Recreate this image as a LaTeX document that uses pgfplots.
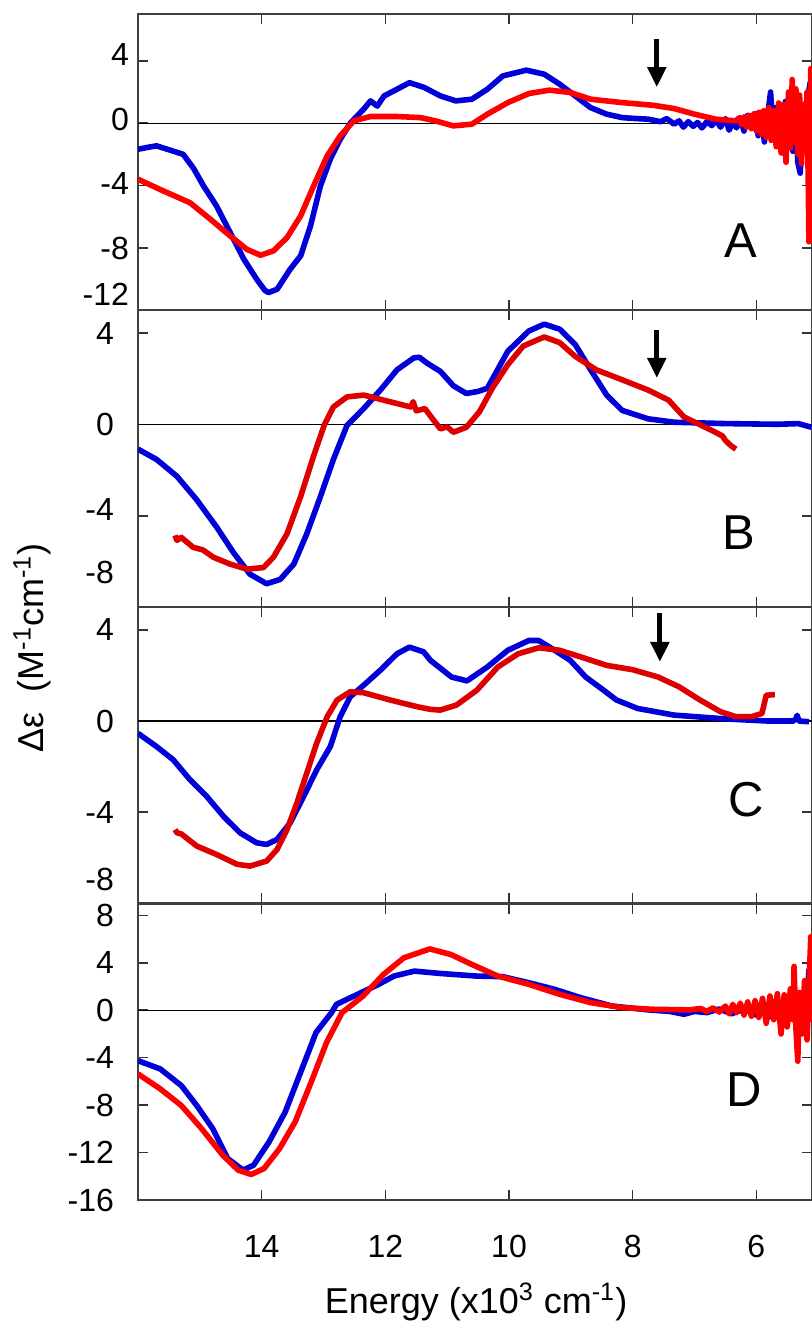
\documentclass[border=0pt]{standalone}
\usepackage{pgfplots}
\pgfplotsset{compat=1.18}
\usepackage{fontspec}
\setmainfont{Liberation Sans}
\usetikzlibrary{arrows.meta}
\definecolor{cblue}{RGB}{0,0,215}
\definecolor{cred}{RGB}{255,0,0}
\definecolor{cdred}{RGB}{222,0,0}
\pgfplotsset{panel/.style={
  scale only axis, width=337pt, height=148.25pt,
  x dir=reverse, xmin=5.1, xmax=16,
  xtick={6,8,10,12,14}, xticklabels={},
  tick align=inside, major tick length=5pt,
  axis line style={line width=1pt, black!75},
  every tick/.style={black!80, line width=0.8pt},
  tick label style={font=\fontsize{16}{16}\selectfont},
  /pgf/number format/assume math mode=true,
  clip=true,
  every axis plot/.append style={line width=2.8pt, line join=round},
}}
\begin{document}
\begin{tikzpicture}
\useasboundingbox (0,0) rectangle (406pt,661.5pt);
% ---------------- A
\begin{axis}[panel, at={(69pt,506.25pt)}, anchor=south west,
  ymin=-12, ymax=7, ytick={-12,-8,-4,0,4},
  yticklabels={\raisebox{16pt}{-12},-8,\raisebox{2pt}{-4},\raisebox{4pt}{0},\raisebox{6pt}{4}},
  yticklabel style={xshift=-1pt}]
\addplot[black, line width=0.7pt] coordinates {(5.1,0) (16,0)};
\addplot[cblue] coordinates {(16,-1.67) (15.85,-1.55) (15.70,-1.45) (15.5,-1.7) (15.27,-1.99) (15.1,-2.9) (14.94,-4.02) (14.73,-5.3) (14.51,-7.0) (14.29,-8.7) (14.08,-10.0) (13.95,-10.7) (13.89,-10.85) (13.75,-10.64) (13.54,-9.36) (13.37,-8.5) (13.21,-6.58) (13.05,-4.02) (12.89,-2.3) (12.73,-1.03) (12.56,0.04) (12.35,0.9) (12.24,1.43) (12.13,1.1) (12.02,1.75) (11.81,2.18) (11.61,2.6) (11.37,2.29) (11.11,1.75) (10.86,1.43) (10.6,1.54) (10.35,2.18) (10.1,3.03) (9.72,3.4) (9.43,3.14) (9.18,2.5) (8.93,1.75) (8.68,1.0) (8.42,0.58) (8.17,0.36) (7.95,0.3) (7.75,0.26) (7.55,0.1) (7.45,0.3) (7.33,-0.06)
(7.25,0.15) (7.18,-0.25) (7.1,0.1) (7.02,-0.2) (6.95,0.05) (6.88,-0.3) (6.8,0.1) (6.72,-0.15) (6.65,0.2) (6.58,-0.25) (6.5,0.3) (6.44,-0.45) (6.38,0.1) (6.32,-0.3) (6.26,0.35) (6.2,-0.5) (6.14,0.5) (6.08,-0.3) (6.02,0.6) (5.97,-0.8) (5.92,0.7) (5.87,-1.2) (5.82,0.4) (5.77,2.0) (5.73,-0.6) (5.69,1.0) (5.65,-1.5) (5.61,0.8) (5.57,-1.9) (5.53,1.4) (5.49,-1.2) (5.45,0.8) (5.41,-1.8) (5.37,1.2) (5.33,-2.5) (5.29,-3.2) (5.25,0.8) (5.21,-1.6) (5.17,1.5) (5.13,2.6) (5.1,-1.0)};
\addplot[cred] coordinates {(16,-3.59) (15.59,-4.34) (15.16,-5.09) (14.83,-6.15) (14.51,-7.22) (14.24,-8.08) (14.02,-8.46) (13.81,-8.18) (13.59,-7.33) (13.37,-5.94) (13.16,-4.02) (12.94,-2.09) (12.73,-0.81) (12.51,0.15) (12.24,0.43) (11.81,0.43) (11.43,0.36) (11.19,0.15) (10.9,-0.17) (10.6,-0.06) (10.35,0.58) (10.02,1.32) (9.68,1.9) (9.35,2.12) (9.01,1.97) (8.68,1.54) (8.17,1.32) (7.67,1.15) (7.33,0.94) (7.0,0.58) (6.66,0.26) (6.33,0.15)
(6.28,0.35) (6.24,-0.1) (6.2,0.4) (6.16,-0.25) (6.12,0.5) (6.08,-0.35) (6.04,0.6) (6.0,-0.5) (5.96,0.7) (5.92,-0.7) (5.88,0.8) (5.84,-0.9) (5.8,1.0) (5.76,-1.1) (5.72,0.8) (5.68,-1.5) (5.64,1.3) (5.6,-1.9) (5.56,1.2) (5.52,-2.5) (5.48,2.0) (5.45,-1.6) (5.42,2.8) (5.39,-1.2) (5.36,2.2) (5.33,-2.0) (5.3,1.8) (5.27,-2.6) (5.24,1.2) (5.21,-1.8) (5.18,2.0) (5.16,-4.0) (5.15,-7.6) (5.13,-5.0) (5.12,3.5) (5.1,-2.0)};
\draw[-{Triangle[width=9pt,length=10pt]}, line width=2.5pt] (axis cs:7.61,5.38) -- (axis cs:7.61,2.31);
\node[font=\fontsize{24.5}{24.5}\selectfont] at (axis cs:6.25,-7.55) {A};
\end{axis}
% ---------------- B
\begin{axis}[panel, at={(69pt,358pt)}, anchor=south west,
  ymin=-8, ymax=5, ytick={-8,-4,0,4},
  yticklabels={\raisebox{35pt}{-8},\raisebox{6pt}{-4},0,4},
  yticklabel style={xshift=-8.5pt}]
\addplot[black, line width=0.7pt] coordinates {(5.1,0) (16,0)};
\addplot[cblue] coordinates {(16,-1.08) (15.70,-1.53) (15.37,-2.27) (15.05,-3.30) (14.73,-4.49) (14.46,-5.6) (14.19,-6.56) (13.92,-6.98) (13.70,-6.79) (13.48,-6.12) (13.27,-4.79) (13.05,-3.16) (12.84,-1.53) (12.62,-0.04) (12.35,0.70) (12.08,1.51) (11.81,2.4) (11.54,2.92) (11.45,2.95) (11.33,2.7) (11.11,2.33) (10.9,1.7) (10.69,1.36) (10.5,1.45) (10.35,1.59) (10.02,3.21) (9.68,4.1) (9.43,4.4) (9.18,4.18) (8.93,3.51) (8.68,2.4) (8.42,1.29) (8.17,0.62) (7.75,0.25) (7.33,0.10) (6.49,0.04) (5.66,0.01) (5.32,0.04) (5.11,-0.12)};
\addplot[cdred] coordinates {(15.40,-4.86) (15.37,-5.08) (15.30,-4.95) (15.11,-5.38) (14.95,-5.5) (14.78,-5.82) (14.51,-6.12) (14.24,-6.34) (13.97,-6.27) (13.81,-5.82) (13.59,-4.79) (13.37,-3.16) (13.16,-1.38) (12.99,-0.04) (12.84,0.77) (12.62,1.21) (12.35,1.29) (12.03,1.07) (11.59,0.77) (11.55,1.0) (11.5,0.6) (11.36,0.70) (11.25,0.3) (11.11,-0.19) (11.0,-0.1) (10.9,-0.34) (10.69,-0.12) (10.48,0.55) (10.27,1.59) (10.02,2.62) (9.77,3.44) (9.43,3.84) (9.18,3.59) (8.93,2.99) (8.59,2.4) (8.17,1.96) (7.75,1.51) (7.42,1.07) (7.17,0.33) (6.91,-0.01) (6.66,-0.34) (6.55,-0.5) (6.5,-0.7) (6.41,-0.93) (6.33,-1.08)};
\draw[-{Triangle[width=9pt,length=10pt]}, line width=2.5pt] (axis cs:7.61,4.14) -- (axis cs:7.61,2.04);
\node[font=\fontsize{24.5}{24.5}\selectfont] at (axis cs:6.28,-4.76) {B};
\end{axis}
% ---------------- C
\begin{axis}[panel, at={(69pt,209.75pt)}, anchor=south west,
  ymin=-8, ymax=5, ytick={-8,-4,0,4},
  yticklabels={\raisebox{24.5pt}{-8},-4,0,\raisebox{-9pt}{4}},
  yticklabel style={xshift=-8.5pt}]
\addplot[black, line width=0.7pt] coordinates {(5.1,0) (16,0)};
\addplot[cblue] coordinates {(16,-0.54) (15.70,-1.12) (15.43,-1.70) (15.16,-2.57) (14.89,-3.30) (14.62,-4.17) (14.35,-4.90) (14.08,-5.34) (13.92,-5.41) (13.75,-5.19) (13.54,-4.47) (13.32,-3.30) (13.11,-2.14) (12.89,-1.12) (12.73,0.19) (12.57,1.06) (12.35,1.57) (12.08,2.23) (11.81,2.95) (11.61,3.24) (11.38,3.03) (11.27,2.66) (10.93,1.93) (10.68,1.76) (10.35,2.37) (10.02,3.10) (9.68,3.53) (9.52,3.53) (9.26,3.10) (9.01,2.66) (8.76,1.93) (8.51,1.43) (8.26,0.92) (7.92,0.55) (7.33,0.26) (6.49,0.09) (5.82,0.0) (5.40,0.0) (5.36,0.1) (5.34,0.25) (5.31,0.0) (5.15,-0.03)};
\addplot[cdred] coordinates {(15.40,-4.76) (15.37,-4.9) (15.30,-4.95) (15.05,-5.48) (14.73,-5.85) (14.40,-6.28) (14.19,-6.36) (13.92,-6.14) (13.75,-5.63) (13.59,-4.76) (13.43,-3.59) (13.27,-2.28) (13.11,-0.97) (12.94,0.19) (12.78,0.92) (12.57,1.28) (12.35,1.24) (11.92,0.92) (11.49,0.63) (11.27,0.51) (11.11,0.48) (10.85,0.70) (10.52,1.35) (10.18,2.37) (9.85,2.95) (9.52,3.21) (9.18,3.10) (8.84,2.81) (8.42,2.44) (8.0,2.25) (7.59,1.93) (7.25,1.50) (6.91,0.92) (6.58,0.41) (6.33,0.19) (6.08,0.19) (5.91,0.33) (5.84,1.13) (5.70,1.16)};
\draw[-{Triangle[width=9pt,length=10pt]}, line width=2.5pt] (axis cs:7.56,4.74) -- (axis cs:7.56,2.59);
\node[font=\fontsize{24.5}{24.5}\selectfont] at (axis cs:6.17,-3.46) {C};
\end{axis}
% ---------------- D
\begin{axis}[panel, at={(69pt,61.5pt)}, anchor=south west,
  ymin=-16, ymax=9, ytick={-16,-12,-8,-4,0,4,8},
  yticklabels={-16,-12,-8,-4,0,4,8},
  yticklabel style={xshift=-8.5pt},
  xticklabels={6,8,10,12,14},
  xticklabel style={yshift=-14pt}]
\addplot[black, line width=0.7pt] coordinates {(5.1,0) (16,0)};
\addplot[cblue] coordinates {(16,-4.25) (15.64,-4.95) (15.30,-6.35) (15.05,-8.03) (14.79,-9.99) (14.55,-12.5) (14.30,-13.48) (14.13,-13.06) (13.88,-11.1) (13.62,-8.59) (13.37,-5.23) (13.12,-1.87) (12.87,-0.2) (12.79,0.5) (12.45,1.34) (12.11,2.18) (11.86,2.88) (11.53,3.30) (11.11,3.1) (10.52,2.88) (10.1,2.83) (9.68,2.32) (9.26,1.76) (8.84,1.06) (8.34,0.36) (7.75,0.03) (7.4,-0.1) (7.17,-0.34) (7.0,-0.1) (6.8,-0.2) (6.6,0.1) (6.4,-0.3) (6.2,0.1) (6.0,-0.4) (5.9,0.2) (5.8,-0.6) (5.7,0.3) (5.6,-1.2) (5.5,0.4) (5.4,-0.8) (5.3,0.6) (5.2,-1.0) (5.15,3.4) (5.12,0.5) (5.1,-0.5)};
\addplot[cred] coordinates {(16,-5.37) (15.64,-6.63) (15.30,-8.03) (14.97,-9.99) (14.63,-12.22) (14.38,-13.48) (14.17,-13.85) (13.96,-13.34) (13.71,-11.66) (13.46,-9.43) (13.2,-6.07) (12.95,-2.71) (12.70,-0.2) (12.36,1.2) (12.03,3.02) (11.70,4.42) (11.28,5.17) (10.94,4.7) (10.6,3.86) (10.18,2.88) (9.68,2.18) (9.18,1.34) (8.68,0.64) (8.17,0.22) (7.67,0.08) (7.08,0.03)
(6.9,0.15) (6.8,-0.1) (6.7,0.2) (6.6,-0.15) (6.5,0.35) (6.44,-0.3) (6.38,0.5) (6.32,-0.2) (6.26,0.6) (6.2,-0.4) (6.14,0.7) (6.08,-0.5) (6.02,0.8) (5.96,-0.6) (5.9,1.0) (5.84,-1.1) (5.78,1.2) (5.72,-0.8) (5.66,1.4) (5.6,-2.0) (5.55,1.3) (5.5,-1.4) (5.45,1.8) (5.41,-0.8) (5.39,3.7) (5.36,-1.5) (5.33,-4.3) (5.3,1.5) (5.26,-2.0) (5.22,2.5) (5.18,-2.5) (5.15,1.8) (5.12,6.2) (5.1,-1.0)};
\node[font=\fontsize{24.5}{24.5}\selectfont] at (axis cs:6.2,-6.73) {D};
\end{axis}
\node[font=\fontsize{18}{18}\selectfont, anchor=base] at (238pt,5pt) {Energy (x10\textsuperscript{3} cm\textsuperscript{-1})};
\node[font=\fontsize{18}{18}\selectfont, rotate=90] at (16pt,337.5pt) {Δε\ \ (M\textsuperscript{-1}cm\textsuperscript{-1})};
\end{tikzpicture}
\end{document}
